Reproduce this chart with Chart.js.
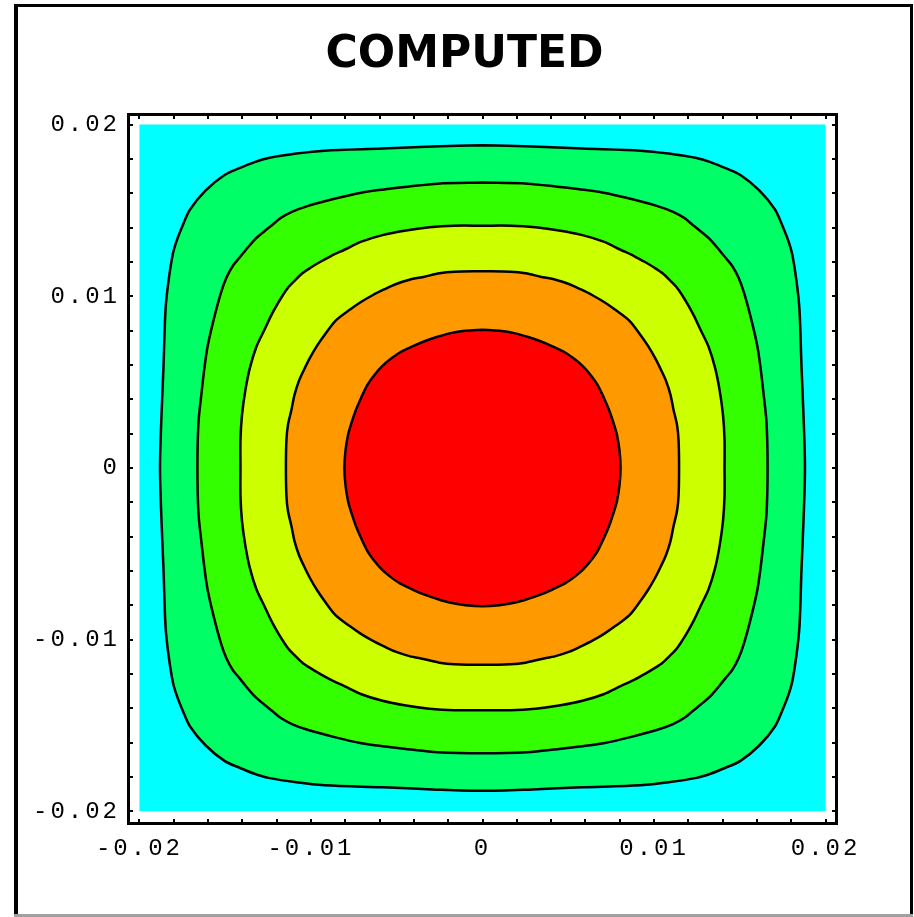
<!DOCTYPE html>
<html><head><meta charset="utf-8">
<script src="https://cdn.jsdelivr.net/npm/chart.js@4.4.1/dist/chart.umd.min.js"></script>
<style>
html,body{margin:0;padding:0;background:#fff;overflow:hidden;}
#wrap{position:relative;width:914px;height:917px;}
canvas{display:block;position:absolute;left:0;top:0;}
#title{position:absolute;left:314px;top:30px;width:301px;text-align:center;
  font-family:'DejaVu Sans';font-weight:bold;font-size:44px;line-height:1;color:#000;margin:0;white-space:nowrap;}
</style>
</head><body>
<div id="wrap">
<canvas id="c" width="914" height="917"></canvas>
<div id="title"></div>
</div>
<script>
const titleText = 'COMPUTED';
const tickValues = [-0.02, -0.01, 0, 0.01, 0.02];
const tickLabels = ['-0.02', '-0.01', '0', '0.01', '0.02'];
const minorTicks = [-0.02, -0.018, -0.016, -0.014, -0.012, -0.01, -0.008, -0.006, -0.004, -0.002, 0,
  0.002, 0.004, 0.006, 0.008, 0.01, 0.012, 0.014, 0.016, 0.018, 0.02];
const fieldExtent = [-0.02, 0.02];
const levelColors = ['#00FFFF', '#00FF66', '#33FF00', '#CCFF00', '#FF9900', '#FF0000'];

// contour lines, first quadrant (the plot is symmetric in x and y)
const contour1 = [[0,0.01880],[0.00292,0.01872],[0.00583,0.01860],[0.00921,0.01848],[0.01085,0.01831],[0.01248,0.01805],[0.01329,0.01781],[0.01417,0.01746],[0.01504,0.01706],[0.01615,0.01615],[0.01706,0.01504],[0.01746,0.01417],[0.01781,0.01329],[0.01805,0.01248],[0.01831,0.01085],[0.01848,0.00921],[0.01860,0.00583],[0.01872,0.00292],[0.01880,0]];
const contour2 = [[0,0.01662],[0.00262,0.01656],[0.00437,0.01638],[0.00583,0.01621],[0.00706,0.01603],[0.00857,0.01569],[0.01020,0.01525],[0.01108,0.01493],[0.01178,0.01455],[0.01224,0.01417],[0.01271,0.01379],[0.01329,0.01329],[0.01379,0.01271],[0.01417,0.01224],[0.01455,0.01178],[0.01493,0.01108],[0.01525,0.01020],[0.01569,0.00857],[0.01603,0.00706],[0.01621,0.00583],[0.01638,0.00437],[0.01656,0.00262],[0.01662,0]];
const contour3 = [[0,0.01411],[0.00163,0.01411],[0.00309,0.01402],[0.00455,0.01382],[0.00583,0.01356],[0.00706,0.01318],[0.00805,0.01271],[0.00886,0.01233],[0.00950,0.01198],[0.01003,0.01166],[0.01050,0.01134],[0.01093,0.01093],[0.01134,0.01050],[0.01166,0.01003],[0.01198,0.00950],[0.01233,0.00886],[0.01271,0.00805],[0.01318,0.00706],[0.01356,0.00583],[0.01382,0.00455],[0.01402,0.00309],[0.01411,0.00163],[0.01411,0]];
const contour4 = [[0,0.01146],[0.00163,0.01143],[0.00251,0.01134],[0.00338,0.01114],[0.00426,0.01096],[0.00507,0.01070],[0.00571,0.01041],[0.00641,0.01006],[0.00711,0.00965],[0.00770,0.00924],[0.00857,0.00857],[0.00924,0.00770],[0.00965,0.00711],[0.01006,0.00641],[0.01041,0.00571],[0.01070,0.00507],[0.01096,0.00426],[0.01114,0.00338],[0.01134,0.00251],[0.01143,0.00163],[0.01146,0]];
const contour5 = [[0,0.00805],[0.00099,0.00799],[0.00192,0.00784],[0.00262,0.00764],[0.00338,0.00738],[0.00408,0.00708],[0.00484,0.00671],[0.00542,0.00630],[0.00589,0.00589],[0.00630,0.00542],[0.00671,0.00484],[0.00708,0.00408],[0.00738,0.00338],[0.00764,0.00262],[0.00784,0.00192],[0.00799,0.00099],[0.00805,0]];

document.getElementById('title').textContent = titleText;

function closedCurve(q) {
  const pts = [];
  q.forEach(([x, y]) => pts.push({x, y}));
  for (let i = q.length - 2; i >= 0; i--) pts.push({x: q[i][0], y: -q[i][1]});
  for (let i = 1; i < q.length; i++) pts.push({x: -q[i][0], y: -q[i][1]});
  for (let i = q.length - 2; i >= 0; i--) pts.push({x: -q[i][0], y: q[i][1]});
  return pts;
}

const [e0, e1] = fieldExtent;
const background = [{x:e0,y:e0},{x:e1,y:e0},{x:e1,y:e1},{x:e0,y:e1},{x:e0,y:e0}];
const contours = [contour1, contour2, contour3, contour4, contour5];

const datasets = [];
for (let k = contours.length - 1; k >= 0; k--) {
  datasets.push({
    data: closedCurve(contours[k]),
    showLine: true, fill: 'shape', tension: 0.3,
    backgroundColor: levelColors[k + 1], borderColor: '#000', borderWidth: 2.5,
    pointRadius: 0, pointHoverRadius: 0
  });
}
datasets.push({data: background, showLine: true, fill: 'shape', tension: 0,
  backgroundColor: levelColors[0], borderWidth: 0, pointRadius: 0, pointHoverRadius: 0});

const framePlugin = {
  id: 'framePlugin',
  beforeDraw(chart) {
    const ctx = chart.ctx;
    ctx.save();
    ctx.fillStyle = '#fff'; ctx.fillRect(0, 0, chart.width, chart.height);
    ctx.fillStyle = '#000';
    ctx.fillRect(14, 4, 899, 3);
    ctx.fillRect(14, 4, 4, 913);
    ctx.fillRect(910, 4, 3, 911);
    ctx.fillStyle = '#a0a0a0'; ctx.fillRect(14, 914, 899, 3);
    ctx.restore();
  },
  afterDatasetsDraw(chart) {
    const {ctx, chartArea: a, scales: {x, y}} = chart;
    ctx.save();
    ctx.strokeStyle = '#000'; ctx.lineWidth = 3;
    ctx.strokeRect(a.left - 1.5, a.top - 1.5, a.right - a.left + 3, a.bottom - a.top + 3);
    ctx.fillStyle = '#000';
    minorTicks.forEach(v => {
      const px = Math.round(x.getPixelForValue(v));
      const py = Math.round(y.getPixelForValue(v));
      ctx.fillRect(px - 1, a.top, 2, 3);
      ctx.fillRect(px - 1, a.bottom - 3, 2, 3);
      ctx.fillRect(a.left, py - 1, 3, 2);
      ctx.fillRect(a.right - 3, py - 1, 3, 2);
    });
    ctx.restore();
    ctx.letterSpacing = '3px';
  },
  afterDraw(chart) { chart.ctx.letterSpacing = '0px'; }
};

const tickFont = {family: 'Liberation Mono', size: 24};
const labelFor = v => { const i = tickValues.indexOf(v); return i >= 0 ? tickLabels[i] : ''; };

new Chart(document.getElementById('c'), {
  type: 'scatter',
  data: {datasets},
  options: {
    responsive: false, animation: false, devicePixelRatio: 1,
    layout: {padding: {left: 0, right: 79, top: 116, bottom: 0}},
    plugins: {legend: {display: false}, tooltip: {enabled: false}, title: {display: false}},
    scales: {
      x: {type: 'linear', min: -0.02055, max: 0.02055,
        afterBuildTicks: s => { s.ticks = tickValues.map(v => ({value: v})); },
        afterFit: s => { s.height = 95; },
        ticks: {callback: v => labelFor(v), font: tickFont, color: '#000', padding: 12,
          maxRotation: 0, autoSkip: false, z: 1},
        grid: {display: false, drawTicks: false}, border: {display: false}},
      y: {type: 'linear', min: -0.02062, max: 0.0205,
        afterBuildTicks: s => { s.ticks = tickValues.map(v => ({value: v})); },
        afterFit: s => { s.width = 130; },
        ticks: {callback: v => labelFor(v), font: tickFont, color: '#000', padding: 10,
          autoSkip: false, z: 1},
        grid: {display: false, drawTicks: false}, border: {display: false}}
    }
  },
  plugins: [framePlugin]
});
</script>
</body></html>
